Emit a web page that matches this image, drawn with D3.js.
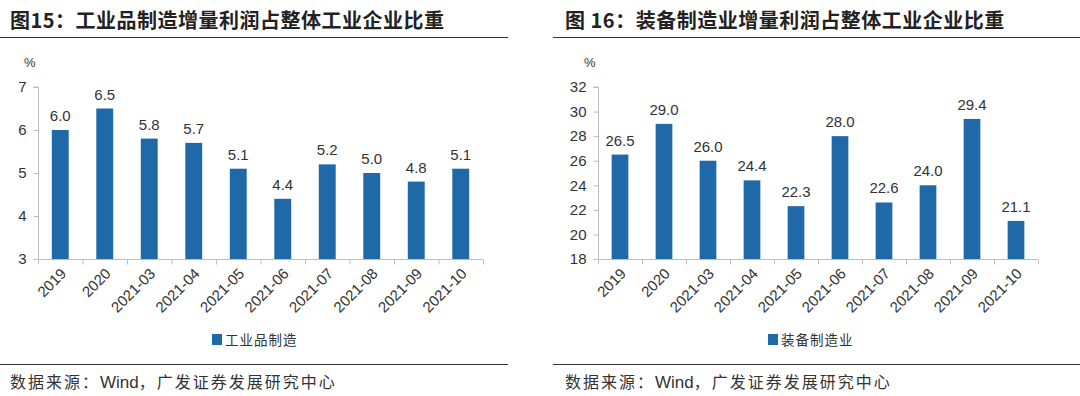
<!DOCTYPE html>
<html lang="zh">
<head>
<meta charset="utf-8">
<title>工业企业增量利润占比</title>
<script src="https://cdn.jsdelivr.net/npm/d3@7"></script>
<style>
  body { margin: 0; background: #fff; }
  svg { display: block; }
  .num { font-family: "Liberation Sans", Arial, sans-serif; fill: #333; }
  .cjk { font-family: "Noto Sans CJK SC", sans-serif; }
</style>
</head>
<body>
<script>
// categories shared by both panels
var months = ["2019", "2020", "2021-03", "2021-04", "2021-05", "2021-06", "2021-07", "2021-08", "2021-09", "2021-10"];

// 图15: 工业品制造
var leftValues = [6.0, 6.5, 5.8, 5.7, 5.1, 4.4, 5.2, 5.0, 4.8, 5.1];
var leftTicks = [3, 4, 5, 6, 7];

// 图16: 装备制造业
var rightValues = [26.5, 29.0, 26.0, 24.4, 22.3, 28.0, 22.6, 24.0, 29.4, 21.1];
var rightTicks = [18, 20, 22, 24, 26, 28, 30, 32];

var W = 1080, H = 396;
var barColor = "#1f69a8";

var svg = d3.select("body").append("svg")
  .attr("width", W)
  .attr("height", H);

function drawPanel(opt) {
  var g = svg.append("g");

  // title
  g.append("text")
    .attr("class", "cjk")
    .attr("x", opt.titleX)
    .attr("y", 28)
    .attr("font-size", 20)
    .attr("font-weight", "bold")
    .attr("letter-spacing", 0.5)
    .attr("fill", "#222")
    .text(opt.title);

  // rules under title and above source
  g.append("line")
    .attr("x1", opt.ruleX1).attr("x2", opt.ruleX2)
    .attr("y1", 37.5).attr("y2", 37.5)
    .attr("stroke", "#333").attr("stroke-width", 1);
  g.append("line")
    .attr("x1", opt.ruleX1).attr("x2", opt.ruleX2)
    .attr("y1", 364.5).attr("y2", 364.5)
    .attr("stroke", "#333").attr("stroke-width", 1);

  var x = d3.scaleBand()
    .domain(months)
    .range([opt.x0, opt.x1])
    .paddingInner(0.62)
    .paddingOuter(0.31);

  var y = d3.scaleLinear()
    .domain(opt.domain)
    .range([259, 87]);

  // y axis
  var yAxis = d3.axisLeft(y).tickValues(opt.ticks).tickFormat(d3.format("d")).tickSize(5).tickPadding(7);
  var ya = g.append("g")
    .attr("transform", "translate(" + (opt.x0 + 0.5) + ",0)")
    .call(yAxis);
  ya.select(".domain").attr("stroke", "#bdbdbd").attr("d", "M-5," + y(opt.domain[1]) + "H0V" + y(opt.domain[0]));
  ya.selectAll(".tick line").attr("stroke", "#bdbdbd");
  ya.selectAll(".tick text")
    .attr("class", "num")
    .attr("font-size", 15)
    .attr("fill", "#333");

  // unit
  g.append("text")
    .attr("class", "num")
    .attr("x", opt.x0 - 14)
    .attr("y", 67)
    .attr("font-size", 13)
    .attr("fill", "#555")
    .text("%");

  // bars
  g.selectAll("rect.bar")
    .data(opt.values)
    .enter()
    .append("rect")
    .attr("class", "bar")
    .attr("x", function(d, i) { return x(months[i]); })
    .attr("width", x.bandwidth())
    .attr("y", function(d) { return y(d); })
    .attr("height", function(d) { return y(opt.domain[0]) - y(d); })
    .attr("fill", barColor);

  // value labels
  g.selectAll("text.val")
    .data(opt.values)
    .enter()
    .append("text")
    .attr("class", "val num")
    .attr("x", function(d, i) { return x(months[i]) + x.bandwidth() / 2; })
    .attr("y", function(d) { return y(d) - 9; })
    .attr("text-anchor", "middle")
    .attr("font-size", 15)
    .attr("fill", "#333")
    .text(function(d) { return d.toFixed(1); });

  // x axis
  var xa = g.append("g")
    .attr("transform", "translate(0," + (y(opt.domain[0]) + 0.5) + ")");
  xa.append("line")
    .attr("x1", opt.x0).attr("x2", opt.x1)
    .attr("stroke", "#bdbdbd");
  var step = x.step();
  xa.selectAll("line.tk")
    .data(d3.range(months.length + 1))
    .enter()
    .append("line")
    .attr("class", "tk")
    .attr("x1", function(i) { return opt.x0 + i * step + 0.5; })
    .attr("x2", function(i) { return opt.x0 + i * step + 0.5; })
    .attr("y1", 0).attr("y2", 5)
    .attr("stroke", "#bdbdbd");
  xa.selectAll("text.lab")
    .data(months)
    .enter()
    .append("text")
    .attr("class", "lab num")
    .attr("font-size", 15)
    .attr("fill", "#333")
    .attr("text-anchor", "end")
    .attr("transform", function(d) {
      return "translate(" + (x(d) + x.bandwidth() / 2 + 7) + ",15) rotate(-45)";
    })
    .text(function(d) { return d; });

  // legend
  var lg = g.append("g").attr("transform", "translate(" + opt.legendX + ",334)");
  lg.append("rect")
    .attr("width", 10).attr("height", 11)
    .attr("fill", barColor);
  lg.append("text")
    .attr("class", "cjk")
    .attr("x", 13)
    .attr("y", 11)
    .attr("font-size", 13.5)
    .attr("letter-spacing", 1)
    .attr("fill", "#333")
    .text(opt.legend);

  // source
  var src = g.append("text")
    .attr("x", opt.titleX)
    .attr("y", 388)
    .attr("font-size", 16)
    .attr("fill", "#333");
  src.append("tspan").attr("class", "cjk").attr("letter-spacing", 2).text("数据来源：");
  src.append("tspan").attr("class", "num").attr("fill", "#333").attr("font-size", 17).text("Wind");
  src.append("tspan").attr("class", "cjk").attr("letter-spacing", 2).text("，广发证券发展研究中心");
}

drawPanel({
  title: "图15：工业品制造增量利润占整体工业企业比重",
  titleX: 10,
  ruleX1: 0, ruleX2: 508,
  x0: 38, x1: 483,
  domain: [3, 7],
  ticks: leftTicks,
  values: leftValues,
  legend: "工业品制造",
  legendX: 212
});

drawPanel({
  title: "图 16：装备制造业增量利润占整体工业企业比重",
  titleX: 565,
  ruleX1: 553, ruleX2: 1080,
  x0: 598, x1: 1038,
  domain: [18, 32],
  ticks: rightTicks,
  values: rightValues,
  legend: "装备制造业",
  legendX: 768
});
</script>
</body>
</html>
